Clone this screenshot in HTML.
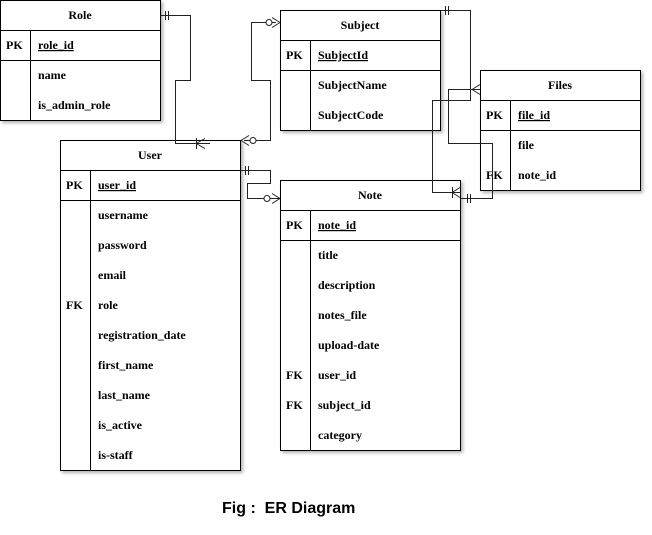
<!DOCTYPE html>
<html><head><style>
body{margin:0;background:#fff;width:652px;height:535px;position:relative;overflow:hidden}
svg{position:absolute;left:0;top:0}
text{font-family:"Liberation Serif",serif;font-weight:bold;font-size:12px;fill:#000;stroke:none}
.cap{position:absolute;left:222px;top:498px;font-family:"Liberation Sans",sans-serif;font-weight:bold;font-size:16px}
</style></head><body>
<svg width="652" height="535" fill="none" stroke="#000" stroke-width="1">
<defs><filter id="s" x="-5%" y="-5%" width="115%" height="115%"><feDropShadow dx="2" dy="2" stdDeviation="1.5" flood-opacity="0.3"/></filter></defs>
<!-- Role -->
<rect x="0.5" y="0.5" width="160" height="120" fill="#fff" filter="url(#s)"/>
<path d="M0.5 30.5H160.5M0.5 60.5H160.5M30.5 30.5V120.5"/>
<text x="80" y="19" text-anchor="middle">Role</text>
<text x="6" y="49">PK</text><text x="38" y="49" text-decoration="underline">role_id</text>
<text x="38" y="79">name</text><text x="38" y="109">is_admin_role</text>
<!-- Subject -->
<rect x="280.5" y="10.5" width="160" height="120" fill="#fff" filter="url(#s)"/>
<path d="M280.5 40.5H440.5M280.5 70.5H440.5M310.5 40.5V130.5"/>
<text x="360" y="29" text-anchor="middle">Subject</text>
<text x="286" y="59">PK</text><text x="318" y="59" text-decoration="underline">SubjectId</text>
<text x="318" y="89">SubjectName</text><text x="318" y="119">SubjectCode</text>
<!-- Files -->
<rect x="480.5" y="70.5" width="160" height="120" fill="#fff" filter="url(#s)"/>
<path d="M480.5 100.5H640.5M480.5 130.5H640.5M510.5 100.5V190.5"/>
<text x="560" y="89" text-anchor="middle">Files</text>
<text x="486" y="119">PK</text><text x="518" y="119" text-decoration="underline">file_id</text>
<text x="518" y="149">file</text><text x="486" y="179">FK</text><text x="518" y="179">note_id</text>
<!-- User -->
<rect x="60.5" y="140.5" width="180" height="330" fill="#fff" filter="url(#s)"/>
<path d="M60.5 170.5H240.5M60.5 200.5H240.5M90.5 170.5V470.5"/>
<text x="150" y="159" text-anchor="middle">User</text>
<text x="66" y="189">PK</text><text x="98" y="189" text-decoration="underline">user_id</text>
<text x="98" y="219">username</text>
<text x="98" y="249">password</text>
<text x="98" y="279">email</text>
<text x="66" y="309">FK</text><text x="98" y="309">role</text>
<text x="98" y="339">registration_date</text>
<text x="98" y="369">first_name</text>
<text x="98" y="399">last_name</text>
<text x="98" y="429">is_active</text>
<text x="98" y="459">is-staff</text>
<!-- Note -->
<rect x="280.5" y="180.5" width="180" height="270" fill="#fff" filter="url(#s)"/>
<path d="M280.5 210.5H460.5M280.5 240.5H460.5M310.5 210.5V450.5"/>
<text x="370" y="199" text-anchor="middle">Note</text>
<text x="286" y="229">PK</text><text x="318" y="229" text-decoration="underline">note_id</text>
<text x="318" y="259">title</text>
<text x="318" y="289">description</text>
<text x="318" y="319">notes_file</text>
<text x="318" y="349">upload-date</text>
<text x="286" y="379">FK</text><text x="318" y="379">user_id</text>
<text x="286" y="409">FK</text><text x="318" y="409">subject_id</text>
<text x="318" y="439">category</text>

<g stroke="#222">
<!-- Role-User -->
<path d="M160.5 15.5H190.5V80.5H175.5V143.5H210"/>
<path d="M165.5 11V20M168.5 11V20"/>
<path d="M196 143.5L205 138.5M196 143.5L205 148.5M196.5 138V149"/>
<!-- Subject-User -->
<path d="M276 22.5H251.5V80.5H270.5V140.5H244"/>
<circle cx="269" cy="22.5" r="3" fill="#fff"/>
<path d="M280 22.5L272 17.5M280 22.5L272 27.5"/>
<circle cx="253" cy="140.5" r="3" fill="#fff"/>
<path d="M241 140.5L249 135.5M241 140.5L249 145.5"/>
<!-- User-Note -->
<path d="M240.5 170.5H270.5V183.5H247.5V198.5H280"/>
<path d="M245.5 166V175M248.5 166V175"/>
<circle cx="267" cy="198.5" r="3" fill="#fff"/>
<path d="M280 198.5L272 193.5M280 198.5L272 203.5"/>
<!-- Subject-Note -->
<path d="M440.5 10.5H470.5V100.5H432.5V192.5H460.5"/>
<path d="M445.5 6V15M448.5 6V15"/>
<path d="M452 192.5L460 187.5M452 192.5L460 197.5M452.5 187V198"/>
<!-- Files-Note -->
<path d="M480.5 89.5H448.5V143.5H492.5V198.5H460.5"/>
<path d="M472 89.5L480 84.5M472 89.5L480 94.5"/>
<path d="M467.5 194V203M470.5 194V203"/>
</g>
</svg>
<div class="cap" style="top:500px">Fig :&nbsp; ER Diagram</div>
</body></html>
